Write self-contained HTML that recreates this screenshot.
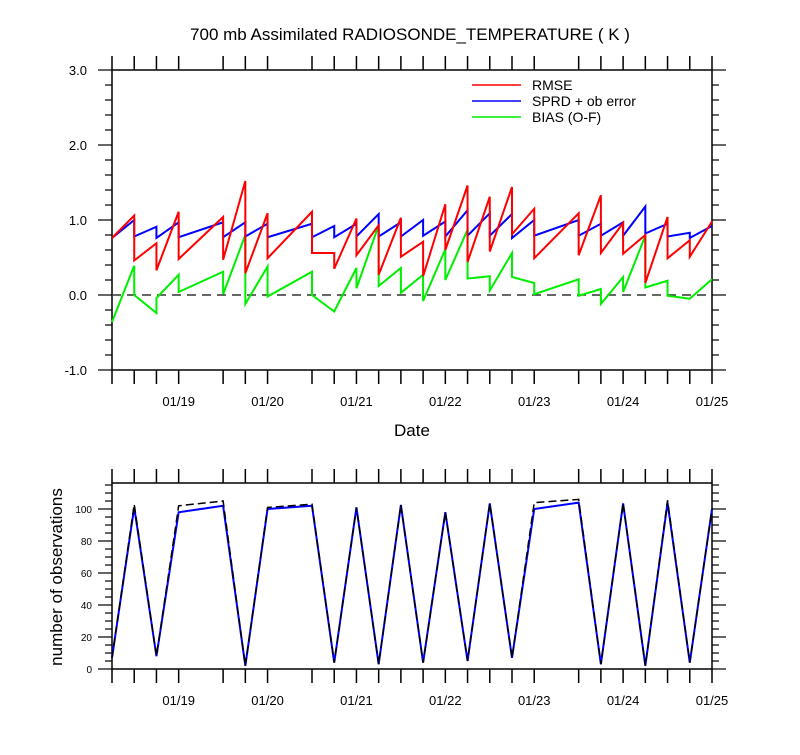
<!DOCTYPE html>
<html><head><meta charset="utf-8"><style>
body{margin:0;background:#fff}
svg{font-family:"Liberation Sans",sans-serif}
</style></head><body>
<svg id="c" width="800" height="750" xmlns="http://www.w3.org/2000/svg"></svg>
<script>
const nodes=[0,1,2,3,5,6,7,9,10,11,12,13,14,15,16,17,18,19,21,22,23,24,25,26,27];
const rmseIn =[null,1.06,0.69,1.11,1.04,1.52,1.09,1.11,0.56,1.02,0.93,1.03,0.71,1.21,1.46,1.31,1.44,1.15,1.09,1.33,0.96,0.80,1.04,0.73,0.98];
const rmseOut=[0.76,0.46,0.33,0.48,0.47,0.29,0.49,0.56,0.35,0.53,0.27,0.51,0.25,0.60,0.44,0.58,0.81,0.49,0.53,0.56,0.55,0.16,0.49,0.51,null];
const sprdIn =[null,1.00,0.91,0.97,0.97,0.97,0.95,0.95,0.92,0.95,1.08,0.97,1.00,0.98,1.13,1.09,1.08,1.00,1.00,0.95,0.97,1.18,0.95,0.83,0.92];
const sprdOut=[0.76,0.78,0.76,0.77,0.77,0.78,0.77,0.77,0.77,0.78,0.78,0.78,0.79,0.78,0.79,0.79,0.76,0.79,0.79,0.79,0.79,0.82,0.78,0.76,null];
const biasIn =[null,0.39,-0.24,0.27,0.31,0.80,0.38,0.31,-0.22,0.36,0.93,0.36,0.27,0.61,0.87,0.25,0.56,0.16,0.21,0.08,0.24,0.79,0.19,-0.05,0.21];
const biasOut=[-0.36,0.00,-0.04,0.04,0.01,-0.12,-0.02,0.00,-0.22,0.09,0.12,0.03,-0.08,0.20,0.22,0.06,0.24,0.01,-0.01,-0.12,0.04,0.10,-0.01,-0.05,null];
const obsTotal=[7,103,8,102,105,2,101,103,4,101,3,102.5,4,98,5,103.5,7,104,106,3,103.5,2,105.5,4,100];
const obsUsed =[7,101,8,98,102,2,100,102,4,101,3,102.5,4,98,5,103.5,7,100,104,3,103.5,2,104,4,100];
const dateLabels=["01/19","01/20","01/21","01/22","01/23","01/24","01/25"];
const dateIdx=[3,7,11,15,19,23,27];
const yTop=[-1.0,0.0,1.0,2.0,3.0];
const yBot=[0,20,40,60,80,100];

const svg=document.getElementById('c');const NS="http://www.w3.org/2000/svg";
function mk(t,a,p){const e=document.createElementNS(NS,t);for(const k in a)e.setAttribute(k,a[k]);(p||svg).appendChild(e);return e;}
const X0=112,X1=712;
const xs=i=>X0+(X1-X0)*i/27;
const yT=v=>370-(v+1)*75;
const yB=v=>669-v*1.6;

// title
let t=mk('text',{x:410,y:40,'text-anchor':'middle','font-size':17});t.textContent="700 mb Assimilated RADIOSONDE_TEMPERATURE ( K )";



function frame(top,bot,name){
  const g=mk('g',{});
  
  
  mk('rect',{x:X0,y:top,width:X1-X0,height:bot-top,fill:'none',stroke:'#000','stroke-width':1.5},g);
  nodes.forEach(n=>{
    mk('line',{x1:xs(n),x2:xs(n),y1:top,y2:top-14,stroke:'#000','stroke-width':1.5},g);
    mk('line',{x1:xs(n),x2:xs(n),y1:bot,y2:bot+14,stroke:'#000','stroke-width':1.5},g);
  });
  dateLabels.forEach((d,i)=>{
    const tx=mk('text',{x:xs(dateIdx[i]),y:bot+36,'text-anchor':'middle','font-size':13},g);tx.textContent=d;
    
    
  });
  return g;
}
// top panel
const g1=frame(70,370,'top-panel');
for(let v=-1;v<=3.0001;v+=0.2){
  const maj=Math.abs(v-Math.round(v))<1e-6, L=maj?14:7;
  mk('line',{x1:X0,x2:X0-L,y1:yT(v),y2:yT(v),stroke:'#000','stroke-width':1.2},g1);
  mk('line',{x1:X1,x2:X1+L,y1:yT(v),y2:yT(v),stroke:'#000','stroke-width':1.2},g1);
}
yTop.forEach(v=>{const tx=mk('text',{x:87,y:yT(v)+5,'text-anchor':'end','font-size':13},g1);tx.textContent=v.toFixed(1);
  
  });
let zl=mk('line',{x1:X0,x2:X1,y1:yT(0),y2:yT(0),stroke:'#333','stroke-width':1.5,'stroke-dasharray':'9,6'},g1);


function saw(inA,outA,col,name){
  let d='';
  nodes.forEach((n,i)=>{
    if(inA[i]!=null) d+=(d?'L':'M')+xs(n)+' '+yT(inA[i]);
    if(outA[i]!=null) d+=(d?'L':'M')+xs(n)+' '+yT(outA[i]);
  });
  const p=mk('path',{d:d,fill:'none',stroke:col,'stroke-width':2,'stroke-linejoin':'miter'},g1);
  
  
}
saw(biasIn,biasOut,'#00ee00','bias-line');
saw(sprdIn,sprdOut,'#0000ff','sprd-line');
saw(rmseIn,rmseOut,'#ff0000','rmse-line');
// legend
[['RMSE','#ff0000'],['SPRD + ob error','#0000ff'],['BIAS (O-F)','#00ee00']].forEach((e,i)=>{
  const g=mk('g',{});
  
  
  mk('line',{x1:472,x2:521,y1:85+i*16,y2:85+i*16,stroke:e[1],'stroke-width':1.5},g);
  const tx=mk('text',{x:532,y:90+i*16,'font-size':14},g);tx.textContent=e[0];
});
let xt=mk('text',{x:412,y:436,'text-anchor':'middle','font-size':17});xt.textContent="Date";



// bottom panel
const g2=frame(483,669,'bottom-panel');
for(let v=0;v<=115;v+=5){
  const maj=v%20===0,L=maj?14:7;
  mk('line',{x1:X0,x2:X0-L,y1:yB(v),y2:yB(v),stroke:'#000','stroke-width':1.2},g2);
  mk('line',{x1:X1,x2:X1+L,y1:yB(v),y2:yB(v),stroke:'#000','stroke-width':1.2},g2);
}
yBot.forEach(v=>{const tx=mk('text',{x:92,y:yB(v)+4,'text-anchor':'end','font-size':10},g2);tx.textContent=v;
  
  });
let yt=mk('text',{x:0,y:0,'font-size':17,'text-anchor':'middle',transform:'translate(62,577) rotate(-90)'});yt.textContent="number of observations";


function line(arr,attrs,name){
  const d=nodes.map((n,i)=>(i?'L':'M')+xs(n)+' '+yB(arr[i])).join('');
  const p=mk('path',Object.assign({d:d,fill:'none'},attrs),g2);
  
  
}
line(obsUsed,{stroke:'#0000ff','stroke-width':2},'obs-used-line');
line(obsTotal,{stroke:'#000','stroke-width':1.5,'stroke-dasharray':'8,4'},'obs-total-line');
</script>
</body></html>
